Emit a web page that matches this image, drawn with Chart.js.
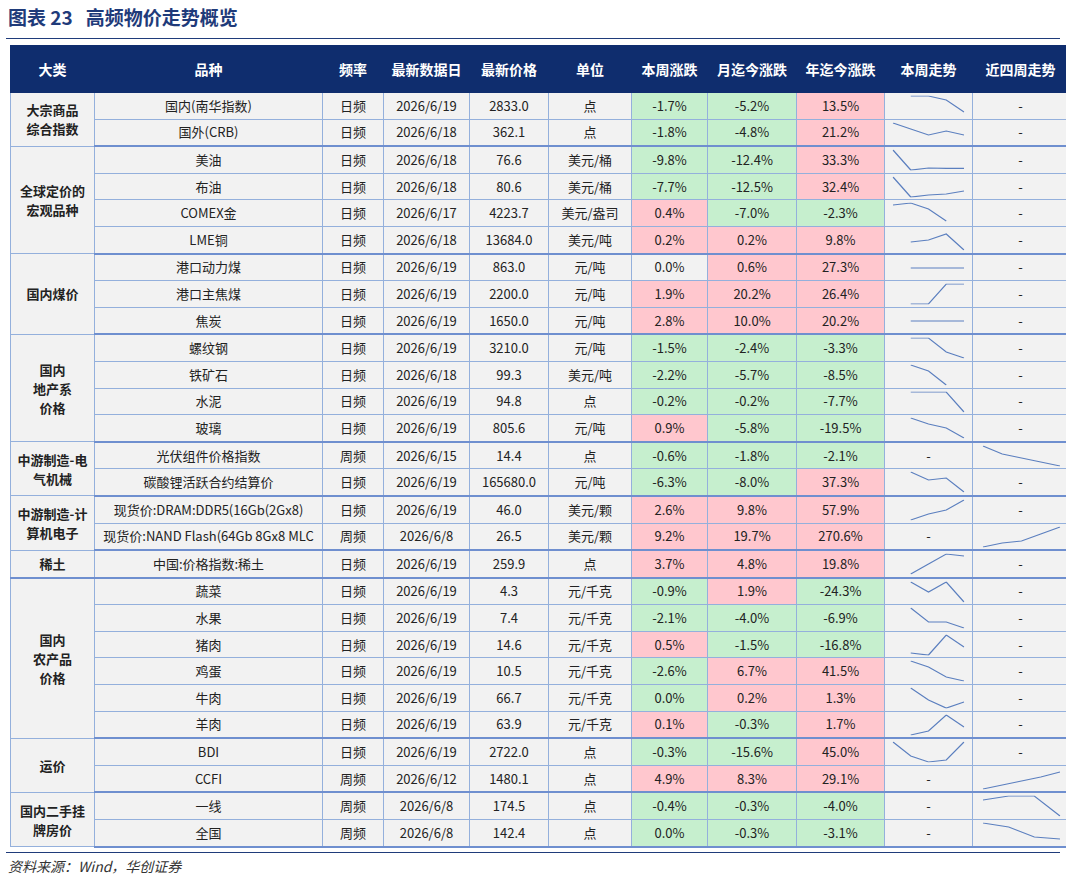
<!DOCTYPE html>
<html>
<head>
<meta charset="utf-8">
<script src="https://cdn.jsdelivr.net/npm/chart.js@4"></script>
<style>
body { margin: 0; background: #fff; font-family: "Noto Sans CJK SC", "Noto Sans", sans-serif; }
#title { position: absolute; left: 8px; top: 3px; font-size: 19px; font-weight: bold; color: #1f3b7a; }
#topline { position: absolute; left: 6px; top: 38px; width: 1054px; border-top: 1.5px solid #1f3b7a; }
table { position: absolute; left: 10px; top: 45px; width: 1040px; table-layout: fixed; border-collapse: collapse; font-size: 13px; color: #222; }
th { background: #0f2d6e; color: #fff; font-weight: bold; height: 46px; padding: 0; font-size: 14px; border: 1px solid #0f2d6e; }
td { background: #f2f2f2; border: 1px solid #94b0dc; height: 25.6px; padding: 0; text-align: center; white-space: nowrap; overflow: hidden; line-height: 16px; }
td.cat { font-weight: bold; background: #f2f2f2; line-height: 19px; white-space: normal; }
td.spark { position: relative; }
td.spark canvas { position: absolute; left: 0; top: 0; }
tr.gend td { border-bottom: 2px solid #6f8fcf; }
#botline { position: absolute; left: 6px; top: 852px; width: 1054px; border-top: 1.5px solid #1f3b7a; }
#source { position: absolute; left: 8px; top: 856px; font-size: 14px; font-style: italic; color: #333; }
</style>
</head>
<body>
<div id="title">图表 23&nbsp;&nbsp;&nbsp;高频物价走势概览</div>
<div id="topline"></div>
<table id="tbl"></table>
<div id="botline"></div>
<div id="source">资料来源：Wind，华创证券</div>
<script>
// ======================================================
// DATA
// ======================================================
const headers = ["大类", "品种", "频率", "最新数据日", "最新价格", "单位", "本周涨跌", "月迄今涨跌", "年迄今涨跌", "本周走势", "近四周走势"];
const colWidths = [83, 227, 60, 85, 78, 82, 75, 88, 87, 87, 95];

const groups = ["大宗商品<br>综合指数", "全球定价的<br>宏观品种", "国内煤价", "国内<br>地产系<br>价格", "中游制造-电<br>气机械", "中游制造-计<br>算机电子", "稀土", "国内<br>农产品<br>价格", "运价", "国内二手挂<br>牌房价"];
const groupSizes = [2, 4, 3, 4, 2, 2, 1, 6, 2, 2];

const items = ["国内(南华指数)", "国外(CRB)", "美油", "布油", "COMEX金", "LME铜", "港口动力煤", "港口主焦煤", "焦炭", "螺纹钢", "铁矿石", "水泥", "玻璃", "光伏组件价格指数", "碳酸锂活跃合约结算价", "现货价:DRAM:DDR5(16Gb(2Gx8)", "现货价:NAND Flash(64Gb 8Gx8 MLC", "中国:价格指数:稀土", "蔬菜", "水果", "猪肉", "鸡蛋", "牛肉", "羊肉", "BDI", "CCFI", "一线", "全国"];
const freq = ["日频", "日频", "日频", "日频", "日频", "日频", "日频", "日频", "日频", "日频", "日频", "日频", "日频", "周频", "日频", "日频", "周频", "日频", "日频", "日频", "日频", "日频", "日频", "日频", "日频", "周频", "周频", "周频"];
const dates = ["2026/6/19", "2026/6/18", "2026/6/18", "2026/6/18", "2026/6/17", "2026/6/18", "2026/6/19", "2026/6/19", "2026/6/19", "2026/6/19", "2026/6/18", "2026/6/19", "2026/6/19", "2026/6/15", "2026/6/19", "2026/6/19", "2026/6/8", "2026/6/19", "2026/6/19", "2026/6/19", "2026/6/19", "2026/6/19", "2026/6/19", "2026/6/19", "2026/6/19", "2026/6/12", "2026/6/8", "2026/6/8"];
const prices = ["2833.0", "362.1", "76.6", "80.6", "4223.7", "13684.0", "863.0", "2200.0", "1650.0", "3210.0", "99.3", "94.8", "805.6", "14.4", "165680.0", "46.0", "26.5", "259.9", "4.3", "7.4", "14.6", "10.5", "66.7", "63.9", "2722.0", "1480.1", "174.5", "142.4"];
const units = ["点", "点", "美元/桶", "美元/桶", "美元/盎司", "美元/吨", "元/吨", "元/吨", "元/吨", "元/吨", "美元/吨", "点", "元/吨", "点", "元/吨", "美元/颗", "美元/颗", "点", "元/千克", "元/千克", "元/千克", "元/千克", "元/千克", "元/千克", "点", "点", "点", "点"];
const weekChg = [-1.7, -1.8, -9.8, -7.7, 0.4, 0.2, 0.0, 1.9, 2.8, -1.5, -2.2, -0.2, 0.9, -0.6, -6.3, 2.6, 9.2, 3.7, -0.9, -2.1, 0.5, -2.6, 0.0, 0.1, -0.3, 4.9, -0.4, 0.0];
const monthChg = [-5.2, -4.8, -12.4, -12.5, -7.0, 0.2, 0.6, 20.2, 10.0, -2.4, -5.7, -0.2, -5.8, -1.8, -8.0, 9.8, 19.7, 4.8, 1.9, -4.0, -1.5, 6.7, 0.2, -0.3, -15.6, 8.3, -0.3, -0.3];
const yearChg = [13.5, 21.2, 33.3, 32.4, -2.3, 9.8, 27.3, 26.4, 20.2, -3.3, -8.5, -7.7, -19.5, -2.1, 37.3, 57.9, 270.6, 19.8, -24.3, -6.9, -16.8, 41.5, 1.3, 1.7, 45.0, 29.1, -4.0, -3.1];
// colour of zero cells in 本周涨跌: "n" neutral, "g" green
const weekZero = { 6: "n", 22: "g", 27: "g" };

// sparklines (null = no data / "-")
const weekTrend = [
    [null, 10, 10, 8, 2], [10, 7, 4, 6, 4], [10, 0, 1, 0.8, 0.8], [10, 0, 1, 1.5, 3],
    [9, 10, 7, 1, null], [null, 4, 5, 8, 0], [null, 5, 5, 5, 5], [null, 0, 0, 10, 10],
    [null, 5, 5, 5, 5], [null, 10, 10, 3, 0], [null, 10, 7, 0, null], [null, 10, 10, 10, 0],
    [null, 10, 7, 5, 0], null, [null, 10, 6, 7, 0], [null, 0, 3, 5, 10],
    null, [null, 0, 5, 10, 9], [null, 10, 5, 10, 0], [null, 10, 3, 3, 0],
    [null, 1, 0, 10, 4], [null, 10, 7, 2, 0], [null, 10, 4, 0, 3], [null, 0, 2, 10, 4],
    [10, 3, 0, 1, 10], null, null, null
];
const monthTrend = [
    null, null, null, null, null, null, null, null, null, null, null, null, null,
    [10, 6, 4, 2, 0], null, null, [0, 4, 6, 13, 20], null, null, null, null, null, null, null, null,
    [0, 4, 8, 12, 17], [8, 10, 10, 0], [10, 8, 3, 2]
];

// ======================================================
// TABLE
// ======================================================
const tbl = document.getElementById("tbl");
const RED = "#ffc7ce", GREEN = "#c6efce";

function pct(v) { return v.toFixed(1) + "%"; }
function bg(v, zero) {
    if (v > 0) return RED;
    if (v < 0) return GREEN;
    return zero === "g" ? GREEN : (zero === "r" ? RED : "#f2f2f2");
}

let head = "<tr>";
headers.forEach((h, i) => { head += `<th style="width:${colWidths[i]}px">${h}</th>`; });
tbl.innerHTML = head + "</tr>";

const sparks = [];
let row = 0;
groups.forEach((g, gi) => {
    for (let k = 0; k < groupSizes[gi]; k++) {
        const tr = document.createElement("tr");
        if (k === groupSizes[gi] - 1) tr.className = "gend";
        let html = "";
        if (k === 0) html += `<td class="cat" rowspan="${groupSizes[gi]}">${g}</td>`;
        html += `<td>${items[row]}</td><td>${freq[row]}</td><td>${dates[row]}</td><td>${prices[row]}</td><td>${units[row]}</td>`;
        html += `<td style="background:${bg(weekChg[row], weekZero[row])}">${pct(weekChg[row])}</td>`;
        html += `<td style="background:${bg(monthChg[row], monthChg[row] === 0 ? "r" : "")}">${pct(monthChg[row])}</td>`;
        html += `<td style="background:${bg(yearChg[row])}">${pct(yearChg[row])}</td>`;
        [weekTrend[row], monthTrend[row]].forEach((d, j) => {
            if (d) {
                const id = `sp${row}_${j}`;
                html += `<td class="spark"><canvas id="${id}"></canvas></td>`;
                sparks.push([id, d, j]);
            } else {
                html += `<td>-</td>`;
            }
        });
        tr.innerHTML = html;
        tbl.appendChild(tr);
        row++;
    }
});

// ======================================================
// SPARKLINES
// ======================================================
sparks.forEach(([id, d, j]) => {
    const cv = document.getElementById(id);
    const td = cv.parentElement;
    cv.style.width = td.clientWidth + "px";
    cv.style.height = td.clientHeight + "px";
    new Chart(cv, {
        type: "line",
        data: {
            labels: d.map((_, i) => i),
            datasets: [{ data: d, borderColor: "#5b7fbf", borderWidth: 1.2, pointRadius: 0, tension: 0, spanGaps: false }]
        },
        options: {
            responsive: false,
            animation: false,
            layout: { padding: { left: j ? 10 : 8, right: 8, top: 3, bottom: 3 } },
            plugins: { legend: { display: false }, tooltip: { enabled: false } },
            scales: { x: { display: false }, y: { display: false } }
        }
    });
});
</script>
</body>
</html>
